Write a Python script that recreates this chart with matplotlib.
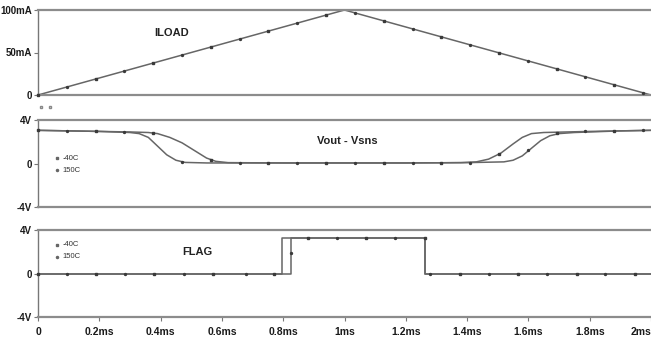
import numpy as np
import matplotlib.pyplot as plt

# time axis in ms
load_t = [0.0, 1.0, 2.0]
load_ma = [0.0, 100.0, 0.0]
load_sq_t = [0.0, 0.188, 0.376, 0.564, 0.752, 0.94, 1.128, 1.316, 1.504, 1.692, 1.88]
load_sq = [0.0, 18.8, 37.6, 56.4, 75.2, 94.0, 87.2, 68.4, 49.6, 30.8, 12.0]
load_dot_t = [0.094, 0.282, 0.47, 0.658, 0.846, 1.034, 1.222, 1.41, 1.598, 1.786, 1.974]
load_dot = [9.4, 28.2, 47.0, 65.8, 84.6, 96.6, 77.8, 59.0, 40.2, 21.4, 2.6]

# Vout - Vsns, -40C and 150C
vout_cold_t = [0, 0.1, 0.2, 0.3, 0.36, 0.39, 0.43, 0.47, 0.51, 0.55, 0.58, 0.62, 0.8, 1.0,
               1.2, 1.38, 1.43, 1.47, 1.51, 1.55, 1.58, 1.61, 1.65, 1.8, 1.9, 2.0]
vout_cold = [3.05, 3.0, 2.95, 2.9, 2.85, 2.75, 2.4, 1.9, 1.2, 0.5, 0.2, 0.08, 0.05, 0.05,
             0.05, 0.08, 0.15, 0.4, 0.95, 1.8, 2.4, 2.75, 2.85, 2.95, 3.0, 3.05]
vout_hot_t = [0, 0.1, 0.2, 0.3, 0.33, 0.36, 0.39, 0.42, 0.45, 0.48, 0.55, 0.8, 1.0, 1.2,
              1.4, 1.52, 1.55, 1.58, 1.61, 1.64, 1.67, 1.70, 1.75, 1.9, 2.0]
vout_hot = [3.05, 3.0, 2.95, 2.85, 2.75, 2.4, 1.6, 0.8, 0.3, 0.1, 0.05, 0.05, 0.05, 0.05,
            0.08, 0.15, 0.3, 0.7, 1.4, 2.1, 2.55, 2.75, 2.85, 3.0, 3.05]
vout_sq_t = [0.0, 0.188, 0.376, 0.564, 0.752, 0.94, 1.128, 1.316, 1.504, 1.692, 1.88]
vout_sq = [3.05, 2.95, 2.8, 0.35, 0.05, 0.05, 0.05, 0.06, 0.9, 2.8, 2.98]
vout_dot_t = [0.094, 0.282, 0.47, 0.658, 0.846, 1.034, 1.222, 1.41, 1.598, 1.786, 1.974]
vout_dot = [3.0, 2.9, 0.12, 0.05, 0.05, 0.05, 0.05, 0.08, 1.25, 2.95, 3.05]

# FLAG
flag_cold_t = [0, 0.795, 0.795, 1.262, 1.262, 2.0]
flag_cold = [0, 0, 3.3, 3.3, 0, 0]
flag_hot_t = [0, 0.825, 0.825, 1.262, 1.262, 2.0]
flag_hot = [0, 0, 3.3, 3.3, 0, 0]
flag_sq_t = [0.0, 0.19, 0.38, 0.57, 0.77, 0.88, 1.07, 1.262, 1.377, 1.567, 1.757, 1.947]
flag_sq = [0, 0, 0, 0, 0, 3.3, 3.3, 3.3, 0, 0, 0, 0]
flag_dot_t = [0.095, 0.285, 0.475, 0.68, 0.826, 0.975, 1.165, 1.28, 1.47, 1.66, 1.85]
flag_dot = [0, 0, 0, 0, 1.9, 3.3, 3.3, 0, 0, 0, 0]

xticks = [0, 0.2, 0.4, 0.6, 0.8, 1.0, 1.2, 1.4, 1.6, 1.8, 2.0]
xtick_labels = ['0', '0.2ms', '0.4ms', '0.6ms', '0.8ms', '1ms', '1.2ms', '1.4ms', '1.6ms', '1.8ms', '2ms']

LINE = '#666666'
MARK = '#3a3a3a'
SPINE = '#8c8c8c'
FONT = ['Liberation Sans Narrow', 'Liberation Sans', 'DejaVu Sans']

plt.rcParams['font.family'] = FONT

fig = plt.figure(figsize=(6.51, 3.42), dpi=100)
W, H = 651.0, 342.0
left = 38 / W
width = (651 - 38) / W
ax1 = fig.add_axes([left, 1 - 95 / H, width, 85 / H])
ax2 = fig.add_axes([left, 1 - 207 / H, width, 87 / H])
ax3 = fig.add_axes([left, 1 - 317 / H, width, 87 / H])


def style(ax, ylim, yticks, ylabels):
    ax.set_xlim(0, 2)
    ax.set_ylim(*ylim)
    ax.set_yticks(yticks)
    ax.set_yticklabels(ylabels, fontsize=7, fontweight='bold', color='#1a1a1a')
    for s in ['top', 'bottom']:
        ax.spines[s].set_color(SPINE)
        ax.spines[s].set_linewidth(1.6)
    ax.spines['right'].set_visible(False)
    ax.spines['left'].set_color('#777777')
    ax.spines['left'].set_linewidth(1.0)
    ax.tick_params(axis='y', length=3, width=0.8, color='#777777', pad=1.5)
    ax.patch.set_alpha(0)


def marks(ax, sq_t, sq_v, dot_t, dot_v):
    ax.plot(sq_t, sq_v, 's', ms=2.0, color=MARK, mec=MARK, clip_on=False, zorder=4)
    ax.plot(dot_t, dot_v, 'o', ms=1.4, color=MARK, mec=MARK, clip_on=False, zorder=4)


def legend(ax, y1, y2):
    ax.plot([0.031], [y1], 's', ms=2.0, color='#666666', transform=ax.transAxes)
    ax.plot([0.031], [y2], 'o', ms=1.5, color='#666666', transform=ax.transAxes)
    ax.text(0.04, y1, '-40C', transform=ax.transAxes, fontsize=5.5, color='#333333', va='center')
    ax.text(0.04, y2, '150C', transform=ax.transAxes, fontsize=5.5, color='#333333', va='center')


# ILOAD
ax1.plot(load_t, load_ma, color=LINE, lw=1.1, clip_on=False)
marks(ax1, load_sq_t, load_sq, load_dot_t, load_dot)
style(ax1, (0, 100), [0, 50, 100], ['0', '50mA', '100mA'])
ax1.set_xticks([])
ax1.text(0.437, 73, 'ILOAD', fontsize=8, fontweight='bold', color='#222222', ha='center', va='center')
ax1.plot([0.005, 0.02], [-0.14, -0.14], 's', ms=2.0, color='#888888', mfc='none',
         transform=ax1.transAxes, clip_on=False)

# Vout - Vsns
ax2.plot(vout_cold_t, vout_cold, color=LINE, lw=1.1)
ax2.plot(vout_hot_t, vout_hot, color=LINE, lw=1.1)
marks(ax2, vout_sq_t, vout_sq, vout_dot_t, vout_dot)
style(ax2, (-4, 4), [-4, 0, 4], ['-4V', '0', '4V'])
ax2.set_xticks([])
ax2.text(1.01, 2.1, 'Vout - Vsns', fontsize=8, fontweight='bold', color='#222222', ha='center', va='center')
legend(ax2, 0.563, 0.425)

# FLAG
ax3.plot(flag_cold_t, flag_cold, color=LINE, lw=1.1, clip_on=False)
ax3.plot(flag_hot_t, flag_hot, color=LINE, lw=1.1, clip_on=False)
marks(ax3, flag_sq_t, flag_sq, flag_dot_t, flag_dot)
style(ax3, (-4, 4), [-4, 0, 4], ['-4V', '0', '4V'])
ax3.set_xticks(xticks)
ax3.set_xticklabels(xtick_labels, fontsize=7.5, fontweight='bold', color='#1a1a1a')
ax3.get_xticklabels()[-1].set_horizontalalignment('right')
ax3.tick_params(axis='x', length=3, width=0.8, color='#777777', pad=4)
ax3.text(0.52, 2.0, 'FLAG', fontsize=8, fontweight='bold', color='#222222', ha='center', va='center')
legend(ax3, 0.828, 0.69)

fig.savefig('out.png', dpi=100)
